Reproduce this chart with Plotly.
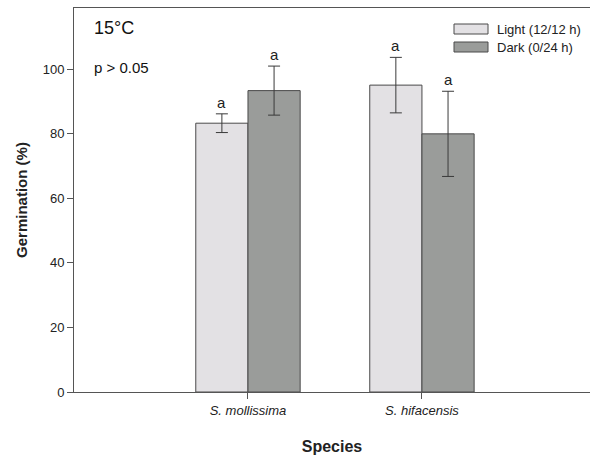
import plotly.graph_objects as go

species = ["S. mollissima", "S. hifacensis"]
light_vals = [83.3, 95.1]
light_err = [2.9, 8.6]
dark_vals = [93.4, 80.0]
dark_err = [7.6, 13.2]
sig_light = ["a", "a"]
sig_dark = ["a", "a"]
series_names = ["Light (12/12 h)", "Dark (0/24 h)"]

FONT = "Liberation Sans, Arial, sans-serif"
LIGHT = "#e3e1e4"
DARK = "#9a9c9a"
EDGE = "#4a4a4a"

W, H = 590, 457
PL, PT, PR, PB = 74, 8, 590, 392  # plot area in window pixels

fig = go.Figure()
for name, vals, errs, col in [(series_names[0], light_vals, light_err, LIGHT),
                              (series_names[1], dark_vals, dark_err, DARK)]:
    fig.add_trace(go.Bar(
        x=species, y=vals, name=name,
        marker=dict(color=col, line=dict(color=EDGE, width=1)),
        error_y=dict(type="data", array=errs, visible=True, color="#3a3a3a",
                     thickness=1, width=6),
        showlegend=False,
    ))

annotations = []
half = 0.15
for i in range(len(species)):
    annotations.append(dict(x=i - half, y=light_vals[i] + light_err[i], xref="x", yref="y",
                            text=sig_light[i], showarrow=False, yanchor="bottom", yshift=1,
                            font=dict(family=FONT, size=15, color="#222")))
    annotations.append(dict(x=i + half, y=dark_vals[i] + dark_err[i], xref="x", yref="y",
                            text=sig_dark[i], showarrow=False, yanchor="bottom", yshift=1,
                            font=dict(family=FONT, size=15, color="#222")))

plot_w = PR - PL
plot_h = PB - PT
def px_x(px):
    return (px - PL) / plot_w
def px_y(py):
    return (PB - py) / plot_h

annotations.append(dict(x=px_x(92), y=px_y(28), xref="paper", yref="paper", text="15°C", showarrow=False,
                        xanchor="left", yanchor="middle", font=dict(family=FONT, size=18, color="#111")))
annotations.append(dict(x=px_x(92), y=px_y(67), xref="paper", yref="paper", text="p > 0.05", showarrow=False,
                        xanchor="left", yanchor="middle", font=dict(family=FONT, size=15, color="#111")))

shapes = []
for j, (name, col) in enumerate(zip(series_names, [LIGHT, DARK])):
    cy = 29 + j * 18
    shapes.append(dict(type="rect", xref="paper", yref="paper",
                       x0=px_x(454), x1=px_x(488), y0=px_y(cy + 5), y1=px_y(cy - 5),
                       fillcolor=col, line=dict(color=EDGE, width=1)))
    annotations.append(dict(x=px_x(495), y=px_y(cy), xref="paper", yref="paper", text=name,
                            showarrow=False, xanchor="left", yanchor="middle",
                            font=dict(family=FONT, size=13, color="#222")))

fig.update_layout(
    width=W, height=H,
    margin=dict(l=PL, r=W - PR, t=PT, b=H - PB, autoexpand=False),
    paper_bgcolor="white", plot_bgcolor="white",
    barmode="group", bargap=0.4, bargroupgap=0,
    font=dict(family=FONT, size=12, color="#222"),
    annotations=annotations, shapes=shapes,
    xaxis=dict(range=[-1, 1.966], showline=True, linecolor="#555", linewidth=1, mirror=True,
               ticks="outside", ticklen=6, tickcolor="#555", showgrid=False, zeroline=False,
               tickfont=dict(family=FONT, size=13, style="italic", color="#222"),
               title=dict(text="<b>Species</b>", font=dict(family=FONT, size=16, color="#222"), standoff=24)),
    yaxis=dict(range=[0, 119], tickvals=[0, 20, 40, 60, 80, 100], showline=True, linecolor="#555",
               linewidth=1, ticks="outside", ticklen=6, tickcolor="#555", showgrid=False, zeroline=False,
               tickfont=dict(family=FONT, size=13, color="#222"),
               title=dict(text="<b>Germination (%)</b>", font=dict(family=FONT, size=15, color="#222"), standoff=11)),
)

fig.write_html("out.html", config={"displayModeBar": False},
               post_script="document.body.style.margin='0';document.body.style.overflow='hidden';")
